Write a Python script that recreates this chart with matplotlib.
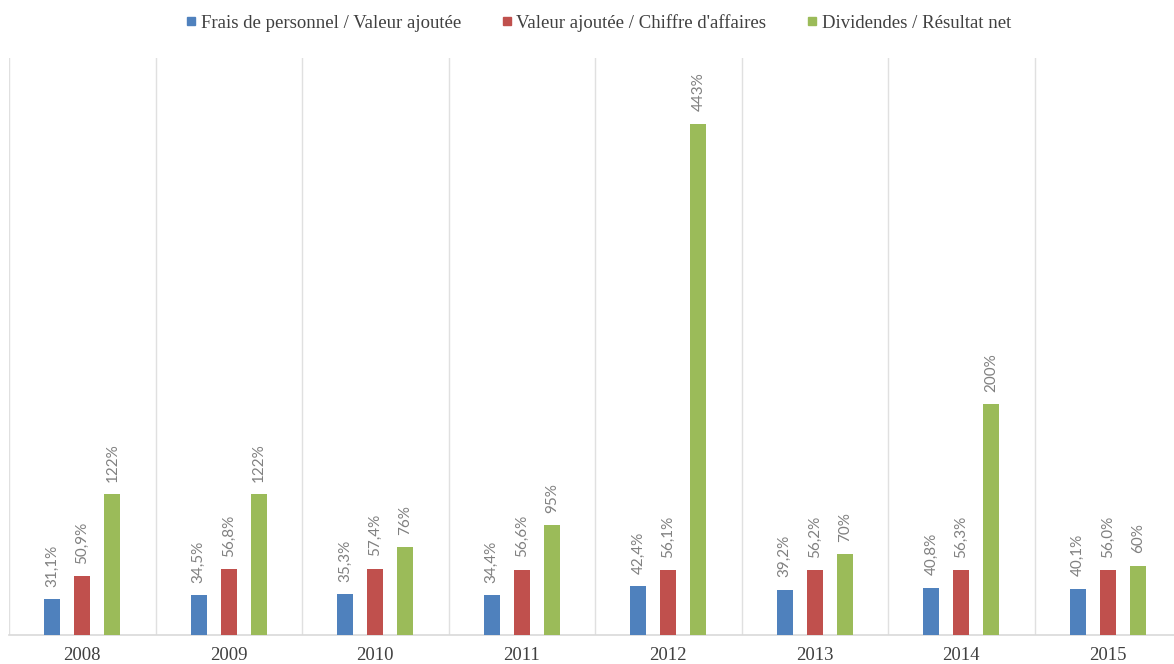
import numpy as np
import matplotlib.pyplot as plt
from matplotlib.lines import Line2D

years = ["2008", "2009", "2010", "2011", "2012", "2013", "2014", "2015"]
frais_va = [31.1, 34.5, 35.3, 34.4, 42.4, 39.2, 40.8, 40.1]
va_ca = [50.9, 56.8, 57.4, 56.6, 56.1, 56.2, 56.3, 56.0]
div_rn = [122, 122, 76, 95, 443, 70, 200, 60]

series_names = ["Frais de personnel / Valeur ajoutée",
                "Valeur ajoutée / Chiffre d'affaires",
                "Dividendes / Résultat net"]
colors = ["#4f81bd", "#c0504d", "#9bbb59"]


def fmt_dec(v):
    return "{:.1f}%".format(v).replace(".", ",")


def fmt_int(v):
    return "{:.0f}%".format(v)


fig = plt.figure(figsize=(11.74, 6.64), dpi=100)
ax = fig.add_axes([9 / 1174, 29 / 664, 1172 / 1174, 577 / 664])

x = np.arange(len(years))
width = 0.109
offset = 0.205

all_series = [(frais_va, fmt_dec), (va_ca, fmt_dec), (div_rn, fmt_int)]
for i, (vals, fmt) in enumerate(all_series):
    pos = x + (i - 1) * offset
    bars = ax.bar(pos, vals, width, color=colors[i], zorder=3)
    for b, v in zip(bars, vals):
        ax.annotate(fmt(v), (b.get_x() + b.get_width() / 2, b.get_height()),
                    xytext=(0, 9), textcoords="offset points",
                    rotation=90, ha="center", va="bottom",
                    fontsize=11, color="#808080", family="Lato")

ax.set_xlim(-0.5, len(years) - 0.5)
ax.set_ylim(0, 500)
ax.set_yticks([])
ax.set_xticks(x)
ax.set_xticklabels(years, family="Liberation Serif", fontsize=13.5, color="#404040")
ax.set_xticks(np.arange(-0.5, len(years)), minor=True)
ax.tick_params(axis="x", which="both", length=0, pad=9)
ax.grid(which="minor", axis="x", color="#e0e0e0", linewidth=1.0, zorder=0)

for s in ["top", "right", "left"]:
    ax.spines[s].set_visible(False)
ax.spines["bottom"].set_color("#d9d9d9")
ax.spines["bottom"].set_linewidth(1.2)

handles = [Line2D([], [], marker="s", linestyle="none", markersize=6,
                  color=c) for c in colors]
fig.legend(handles, series_names, loc="upper center", bbox_to_anchor=(0.51, 1.0),
           ncol=3, frameon=False, handlelength=0.5, handletextpad=0.25,
           columnspacing=2.2, borderaxespad=0.35,
           prop={"family": "Liberation Serif", "size": 13.5}, labelcolor="#404040")

fig.savefig("out.png", dpi=100)
